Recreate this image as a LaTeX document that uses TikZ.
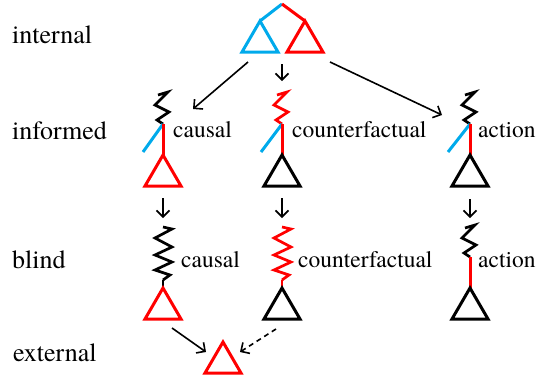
\documentclass[tikz,border=0pt]{standalone}
\usepackage{fontspec}
\setmainfont{TeX Gyre Termes}
\usetikzlibrary{arrows.meta}
\definecolor{myblue}{RGB}{0,170,235}
\definecolor{myred}{RGB}{255,0,0}
\begin{document}
\begin{tikzpicture}[x=1pt,y=-1pt,
  tri/.pic={\draw[line width=3pt] (0,0) -- (-18,31) -- (18,31) -- cycle;},
  arr/.style={-{Straight Barb[length=6.5pt,width=13pt]}, line width=1.6pt},
  zzline/.style={line width=2.7pt},
  stem/.style={line width=3pt},
  rowlab/.style={anchor=base west, inner sep=0pt, font=\fontsize{26}{30}\selectfont},
  nodelab/.style={anchor=base west, inner sep=0pt, font=\fontsize{23.5}{28}\selectfont},
  zzshort/.pic={\draw[zzline] (-5,-29) -- (5,-32) -- (-8,-19) -- (6,-12) -- (-6,-4) -- (0,0);},
  zzlong/.pic={\draw[zzline] (0,-53) -- (9,-51) -- (-8,-42) -- (9,-33) -- (-8,-25) -- (9,-18) -- (-8,-10) -- (7,-5) -- (0,0);}
]
\useasboundingbox (0,0) rectangle (536,381);

% row labels
\node[rowlab] (lint) at (12,43) {internal};
\node[rowlab] (linf) at (12,139) {informed};
\node[rowlab] (lbl)  at (12,268) {blind};
\node[rowlab] (lext) at (13,361) {external};

% ---------- internal ----------
\coordinate (top) at (282,4);
\coordinate (tb) at (260,21);
\coordinate (tr) at (305,21);
\draw[stem, myblue] (top) -- (tb);
\draw[stem, myred] (top) -- (tr);
\pic[myblue] at (tb) {tri};
\pic[myred] at (tr) {tri};

% ---------- informed ----------
% causal
\coordinate (Jc) at (163,124);
\coordinate (Bc) at (143,152);
\coordinate (Tc) at (163,155);
\pic[black] at (Jc) {zzshort};
\draw[stem, myblue] (Jc) -- (Bc);
\draw[stem, myred] (Jc) -- (Tc);
\pic[myred] at (Tc) {tri};
\node[nodelab] (ic) at (173,137) {causal};
% counterfactual
\coordinate (Jf) at (282,124);
\coordinate (Bf) at (261,152);
\coordinate (Tf) at (282,155);
\pic[myred] at (Jf) {zzshort};
\draw[stem, myblue] (Jf) -- (Bf);
\draw[stem, myred] (Jf) -- (Tf);
\pic[black] at (Tf) {tri};
\node[nodelab] (if) at (292,137) {counterfactual};
% action
\coordinate (Ja) at (470,124);
\coordinate (Ba) at (448,152);
\coordinate (Ta) at (470,155);
\pic[black] at (Ja) {zzshort};
\draw[stem, myblue] (Ja) -- (Ba);
\draw[stem, myred] (Ja) -- (Ta);
\pic[black] at (Ta) {tri};
\node[nodelab] (ia) at (478,137) {action};

% ---------- blind ----------
% causal
\coordinate (Zc) at (163,280);
\coordinate (Uc) at (163,288);
\pic[black] at (Zc) {zzlong};
\draw[zzline] (Zc) -- (Uc);
\pic[myred] at (Uc) {tri};
\node[nodelab] (bc) at (181,267) {causal};
% counterfactual
\coordinate (Zf) at (282,280);
\coordinate (Uf) at (282,288);
\pic[myred] at (Zf) {zzlong};
\draw[zzline, myred] (Zf) -- (Uf);
\pic[black] at (Uf) {tri};
\node[nodelab] (bf) at (298,267) {counterfactual};
% action
\coordinate (Za) at (470,257);
\coordinate (Ua) at (470,288);
\pic[black] at (Za) {zzshort};
\draw[stem, myred] (Za) -- (Ua);
\pic[black] at (Ua) {tri};
\node[nodelab] (ba) at (478,267) {action};

% ---------- external ----------
\coordinate (Ex) at (223,342);
\pic[myred] at (Ex) {tri};

% ---------- arrows ----------
\coordinate (a1s) at (248,62);  \coordinate (a1e) at (193,109);
\coordinate (a2s) at (282,64);  \coordinate (a2e) at (282,81);
\coordinate (a3s) at (330,62);  \coordinate (a3e) at (442,115);
\draw[arr] (a1s) -- (a1e);
\draw[arr] (a2s) -- (a2e);
\draw[arr] (a3s) -- (a3e);

\coordinate (d1s) at (163,198); \coordinate (d1e) at (163,218);
\coordinate (d2s) at (282,198); \coordinate (d2e) at (282,218);
\coordinate (d3s) at (470,199); \coordinate (d3e) at (470,218);
\draw[arr] (d1s) -- (d1e);
\draw[arr] (d2s) -- (d2e);
\draw[arr] (d3s) -- (d3e);

\coordinate (e1s) at (172,328); \coordinate (e1e) at (206,352);
\coordinate (e2s) at (276,329); \coordinate (e2e) at (240,352);
\draw[arr] (e1s) -- (e1e);
\draw[arr, dash pattern=on 5pt off 4pt] (e2s) -- (e2e);
\end{tikzpicture}
\end{document}
